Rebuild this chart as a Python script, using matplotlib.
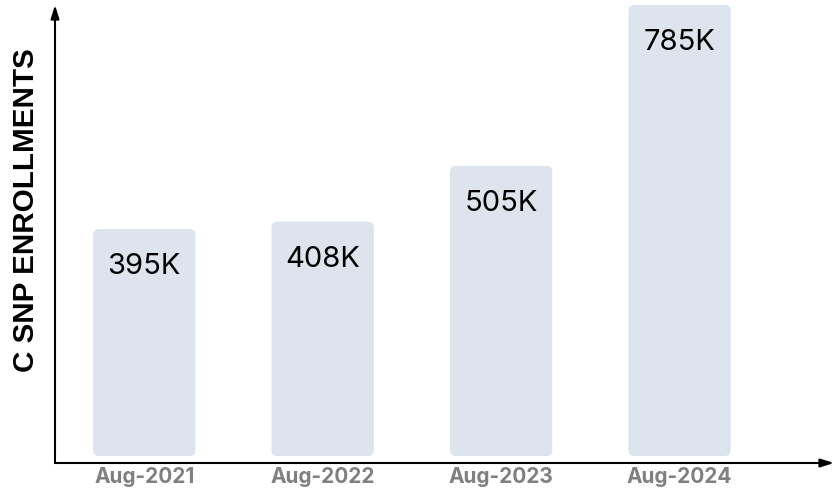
import matplotlib
matplotlib.use("Agg")
from matplotlib import pyplot as plt
from matplotlib.patches import FancyBboxPatch

# datos
meses = ["Aug-2021", "Aug-2022", "Aug-2023", "Aug-2024"]
inscripciones = [395, 408, 505, 785]
etiquetas = ["395K", "408K", "505K", "785K"]

COLOR_BARRA = "#dde4ee"
COLOR_GRIS = "#808080"

plt.rcParams["font.family"] = ["Inter", "DejaVu Sans"]

fig = plt.figure(figsize=(8.34, 4.91), dpi=100)
ax = fig.add_axes([55 / 834, 28 / 491, 779 / 834, 458 / 491])

tope = max(inscripciones)
ax.set_xlim(-0.5, 3.865)
ax.set_ylim(-tope * 7 / 451, tope)

posiciones = list(range(len(meses)))
barras = ax.bar(posiciones, inscripciones, width=0.573, color=COLOR_BARRA)

# esquinas redondeadas
px_x = (3.865 + 0.5) / 779
px_y = (tope * (1 + 7 / 451)) / 458
for b in barras:
    b.set_visible(False)
    caja = FancyBboxPatch((b.get_x(), b.get_y()), b.get_width(), b.get_height(),
                          boxstyle="round,pad=0,rounding_size=%f" % (6 * px_x),
                          mutation_aspect=px_y / px_x,
                          facecolor=COLOR_BARRA, edgecolor="none")
    ax.add_patch(caja)

for x, v, t in zip(posiciones, inscripciones, etiquetas):
    ax.annotate(t, (x, v), xytext=(0, -27), textcoords="offset points",
                ha="center", va="center", fontsize=21, color="black")

for s in ax.spines.values():
    s.set_visible(False)

# ejes con flechas
ax.annotate("", xy=(1, 0), xytext=(0, 0), xycoords="axes fraction",
            arrowprops=dict(arrowstyle="-|>,head_length=0.8,head_width=0.25",
                            color="black", lw=1.5, shrinkA=0, shrinkB=0))
ax.annotate("", xy=(0, 1), xytext=(0, 0), xycoords="axes fraction",
            arrowprops=dict(arrowstyle="-|>,head_length=0.8,head_width=0.25",
                            color="black", lw=1.5, shrinkA=0, shrinkB=0))

ax.set_xticks(posiciones)
ax.set_xticklabels(meses, fontsize=15, fontweight="bold", color=COLOR_GRIS)
ax.tick_params(axis="x", length=0, pad=3)
ax.set_yticks([])
ax.set_ylabel("C SNP ENROLLMENTS", fontsize=21.3, fontweight="bold", color="black",
              family=["Liberation Sans", "DejaVu Sans"])
ax.yaxis.set_label_coords(-15 / 779, (463 - 210) / 458)

fig.savefig("out.png", dpi=100)
